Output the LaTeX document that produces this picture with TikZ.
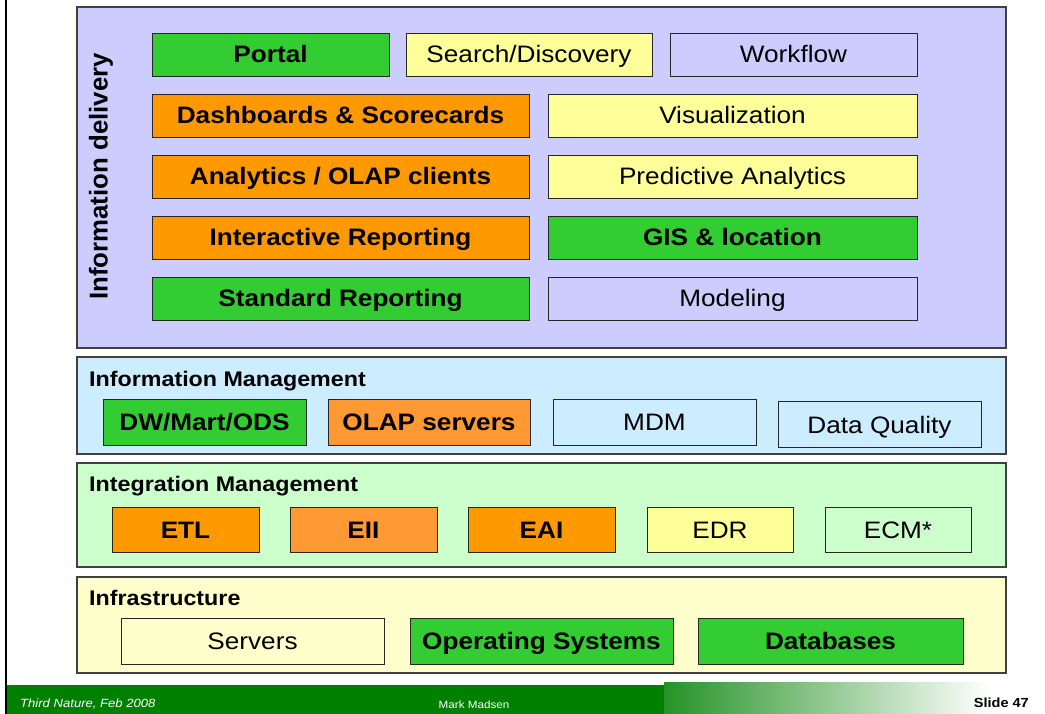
\documentclass[tikz,border=0pt]{standalone}
\usepackage{fontspec}
\setmainfont{Liberation Sans}[FakeStretch=1.1]
\newfontfamily\vfont{Liberation Sans}
\definecolor{cgreen}{RGB}{51,204,51}
\definecolor{corange}{RGB}{255,153,0}
\definecolor{corange2}{RGB}{255,153,51}
\definecolor{cyellow}{RGB}{255,255,153}
\definecolor{clav}{RGB}{204,204,255}
\definecolor{cblue}{RGB}{204,236,255}
\definecolor{cmint}{RGB}{204,255,204}
\definecolor{ccream}{RGB}{255,255,204}
\definecolor{cfoot}{RGB}{0,128,0}
\begin{document}
\begin{tikzpicture}[x=1pt,y=-1pt,
  panel/.style={draw=black!75, line width=1.3pt},
  bx/.style={draw=black!85, line width=0.9pt, inner sep=0pt, align=center,
    text height=17pt, text depth=0pt, font=\fontsize{23.8}{28}\selectfont},
  bb/.style={bx, font=\fontsize{23.8}{28}\selectfont\bfseries},
  ttl/.style={anchor=base west, inner sep=0pt, font=\fontsize{21.15}{25}\selectfont\bfseries},
  r1/.style={minimum height=43pt},
  r2/.style={minimum height=46pt},
  r3/.style={minimum height=45pt}]
\useasboundingbox (0,0) rectangle (1045,714);
\fill[white] (0,0) rectangle (1045,714);
% panels
\filldraw[panel, fill=clav] (77,7) rectangle (1006,348);
\filldraw[panel, fill=cblue] (77,357) rectangle (1006,454);
\filldraw[panel, fill=cmint] (77,463) rectangle (1006,567);
\filldraw[panel, fill=ccream] (77,577) rectangle (1006,673);
% vertical label
\node[rotate=90, inner sep=0pt, font=\vfont\fontsize{25.8}{30}\selectfont\bfseries] (idl) at (101,176.5) {Information delivery};
% Information delivery boxes
\node[bb, r1, fill=cgreen, minimum width=237pt] (portal) at (270.5,54.5) {Portal};
\node[bx, r1, fill=cyellow, minimum width=246pt] (search) at (529,54.5) {Search/Discovery};
\node[bx, r1, fill=clav, minimum width=247pt] (workflow) at (793.5,54.5) {Workflow};
\node[bb, r1, fill=corange, minimum width=377pt] (dash) at (340.5,115.5) {Dashboards \& Scorecards};
\node[bx, r1, fill=cyellow, minimum width=369pt] (vis) at (732.5,115.5) {Visualization};
\node[bb, r1, fill=corange, minimum width=377pt] (olapc) at (340.5,176.5) {Analytics / OLAP clients};
\node[bx, r1, fill=cyellow, minimum width=369pt] (pred) at (732.5,176.5) {Predictive Analytics};
\node[bb, r1, fill=corange, minimum width=377pt] (irep) at (340.5,237.5) {Interactive Reporting};
\node[bb, r1, fill=cgreen, minimum width=369pt] (gis) at (732.5,237.5) {GIS \& location};
\node[bb, r1, fill=cgreen, minimum width=377pt] (srep) at (340.5,298.5) {Standard Reporting};
\node[bx, r1, fill=clav, minimum width=369pt] (model) at (732.5,298.5) {Modeling};
% Information Management
\node[ttl] (t2) at (89,386) {Information Management};
\node[bb, r2, fill=cgreen, minimum width=203pt] (dw) at (204.5,422) {DW/Mart/ODS};
\node[bb, r2, fill=corange2, minimum width=202pt] (olaps) at (429,422) {OLAP servers};
\node[bx, r2, fill=cblue, minimum width=203pt] (mdm) at (654.5,422) {MDM};
\node[bx, r2, fill=cblue, minimum width=203pt] (dq) at (879.5,424.5) {Data Quality};
% Integration Management
\node[ttl] (t3) at (89,491) {Integration Management};
\node[bb, r3, fill=corange, minimum width=147pt] (etl) at (185.5,529.5) {ETL};
\node[bb, r3, fill=corange2, minimum width=147pt] (eii) at (363.5,529.5) {EII};
\node[bb, r3, fill=corange, minimum width=147pt] (eai) at (541.5,529.5) {EAI};
\node[bx, r3, fill=cyellow, minimum width=146pt] (edr) at (720,529.5) {EDR};
\node[bx, r3, fill=cmint, minimum width=146pt] (ecm) at (898,529.5) {ECM*};
% Infrastructure
\node[ttl] (t4) at (89,605) {Infrastructure};
\node[bx, r2, fill=ccream, minimum width=263pt] (srv) at (252.5,641) {Servers};
\node[bb, r2, fill=cgreen, minimum width=263pt] (os) at (541.5,641) {Operating Systems};
\node[bb, r2, fill=cgreen, minimum width=265pt] (db) at (830.5,641) {Databases};
% footer
\fill[cfoot] (7,685) rectangle (664,714);
\shade[left color=cfoot!85!white, right color=white] (664,682) rectangle (990,714);
\draw[black, line width=1.5pt] (6,0) -- (6,714);
\node[anchor=base west, inner sep=0pt, text=white, font=\fontsize{11.9}{14}\selectfont\itshape] (f1) at (20,707) {Third Nature, Feb 2008};
\node[anchor=base, inner sep=0pt, text=white, font=\fontsize{10.6}{13}\selectfont] (f2) at (474,708) {Mark Madsen};
\node[anchor=base east, inner sep=0pt, font=\fontsize{13.2}{16}\selectfont\bfseries] (f3) at (1029,707) {Slide 47};
\end{tikzpicture}
\end{document}
